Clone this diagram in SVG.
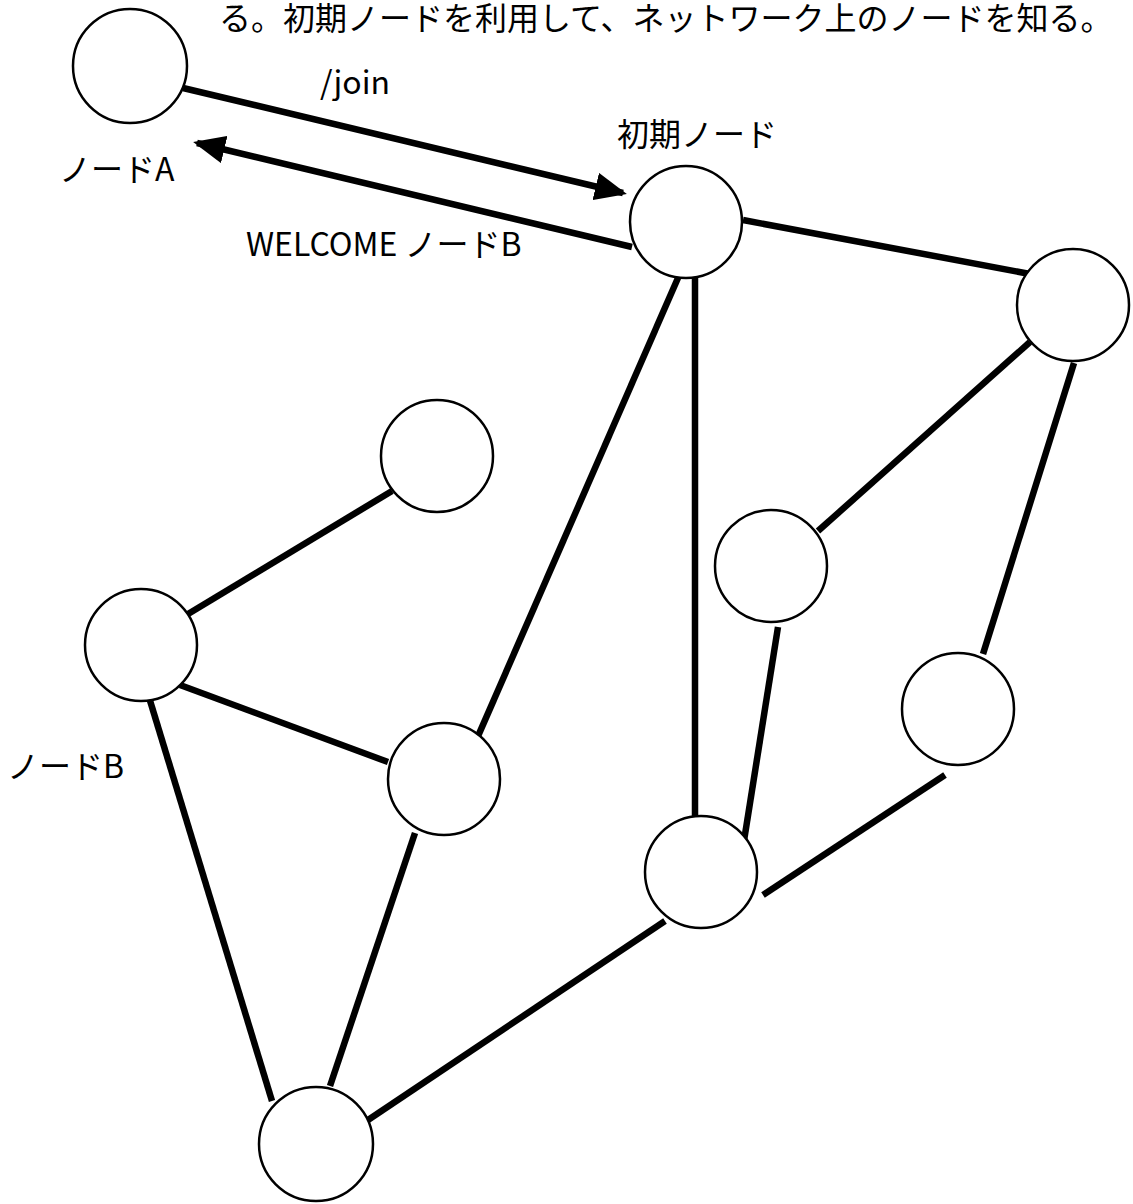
<svg xmlns="http://www.w3.org/2000/svg" width="1133" height="1204" viewBox="0 0 1133 1204">
<style>
.node{fill:#fff;stroke:#000;stroke-width:2.5}
.edge{stroke:#000;stroke-width:6.5;fill:none}
text{font-family:"Noto Sans CJK JP","Noto Sans",sans-serif;font-size:32px;fill:#000}
</style>
<defs>
<marker id="ah" viewBox="0 0 32 28" refX="28" refY="14" markerWidth="32" markerHeight="28" markerUnits="userSpaceOnUse" orient="auto">
<path d="M0,0 L32,14 L0,28 z" fill="#000"/>
</marker>
</defs>
<rect width="1133" height="1204" fill="#fff"/>
<text x="219" y="30">る。初期ノードを利用して、ネットワーク上のノードを知る。</text>
<g id="edges">
<line class="edge" x1="183" y1="88" x2="623" y2="193" marker-end="url(#ah)"/>
<line class="edge" x1="632" y1="247" x2="197" y2="143" marker-end="url(#ah)"/>
<line class="edge" x1="743" y1="220" x2="1030" y2="274"/>
<line class="edge" x1="681" y1="271" x2="465" y2="766"/>
<line class="edge" x1="695" y1="271" x2="695" y2="820"/>
<line class="edge" x1="1030" y1="342" x2="818" y2="531"/>
<line class="edge" x1="1074" y1="363" x2="983" y2="654"/>
<line class="edge" x1="778" y1="627" x2="740" y2="866"/>
<line class="edge" x1="945" y1="775" x2="763" y2="895"/>
<line class="edge" x1="665" y1="921" x2="368" y2="1120"/>
<line class="edge" x1="392" y1="491" x2="188" y2="614"/>
<line class="edge" x1="180" y1="685" x2="388" y2="762"/>
<line class="edge" x1="148" y1="694" x2="272" y2="1101"/>
<line class="edge" x1="415" y1="833" x2="330" y2="1086"/>
</g>
<g id="nodeA"><circle class="node" cx="130" cy="66" r="57"/><text x="59" y="181">ノードA</text></g>
<g id="init"><circle class="node" cx="686" cy="222" r="56"/><text x="617" y="146">初期ノード</text></g>
<g id="n-right-top"><circle class="node" cx="1073" cy="305" r="56"/></g>
<g id="n-top-left"><circle class="node" cx="437" cy="456" r="56"/></g>
<g id="nodeB"><circle class="node" cx="141" cy="645" r="56"/><text x="7" y="778">ノードB</text></g>
<g id="n-mid"><circle class="node" cx="444" cy="779" r="56"/></g>
<g id="n-right-mid"><circle class="node" cx="771" cy="566" r="56"/></g>
<g id="n-far-right"><circle class="node" cx="958" cy="709" r="56"/></g>
<g id="n-low-mid"><circle class="node" cx="701" cy="872" r="56"/></g>
<g id="n-bottom"><circle class="node" cx="316" cy="1144" r="57"/></g>
<g id="labels">
<text x="320" y="94">/join</text>
<text x="246" y="256">WELCOME ノードB</text>
</g>
</svg>
